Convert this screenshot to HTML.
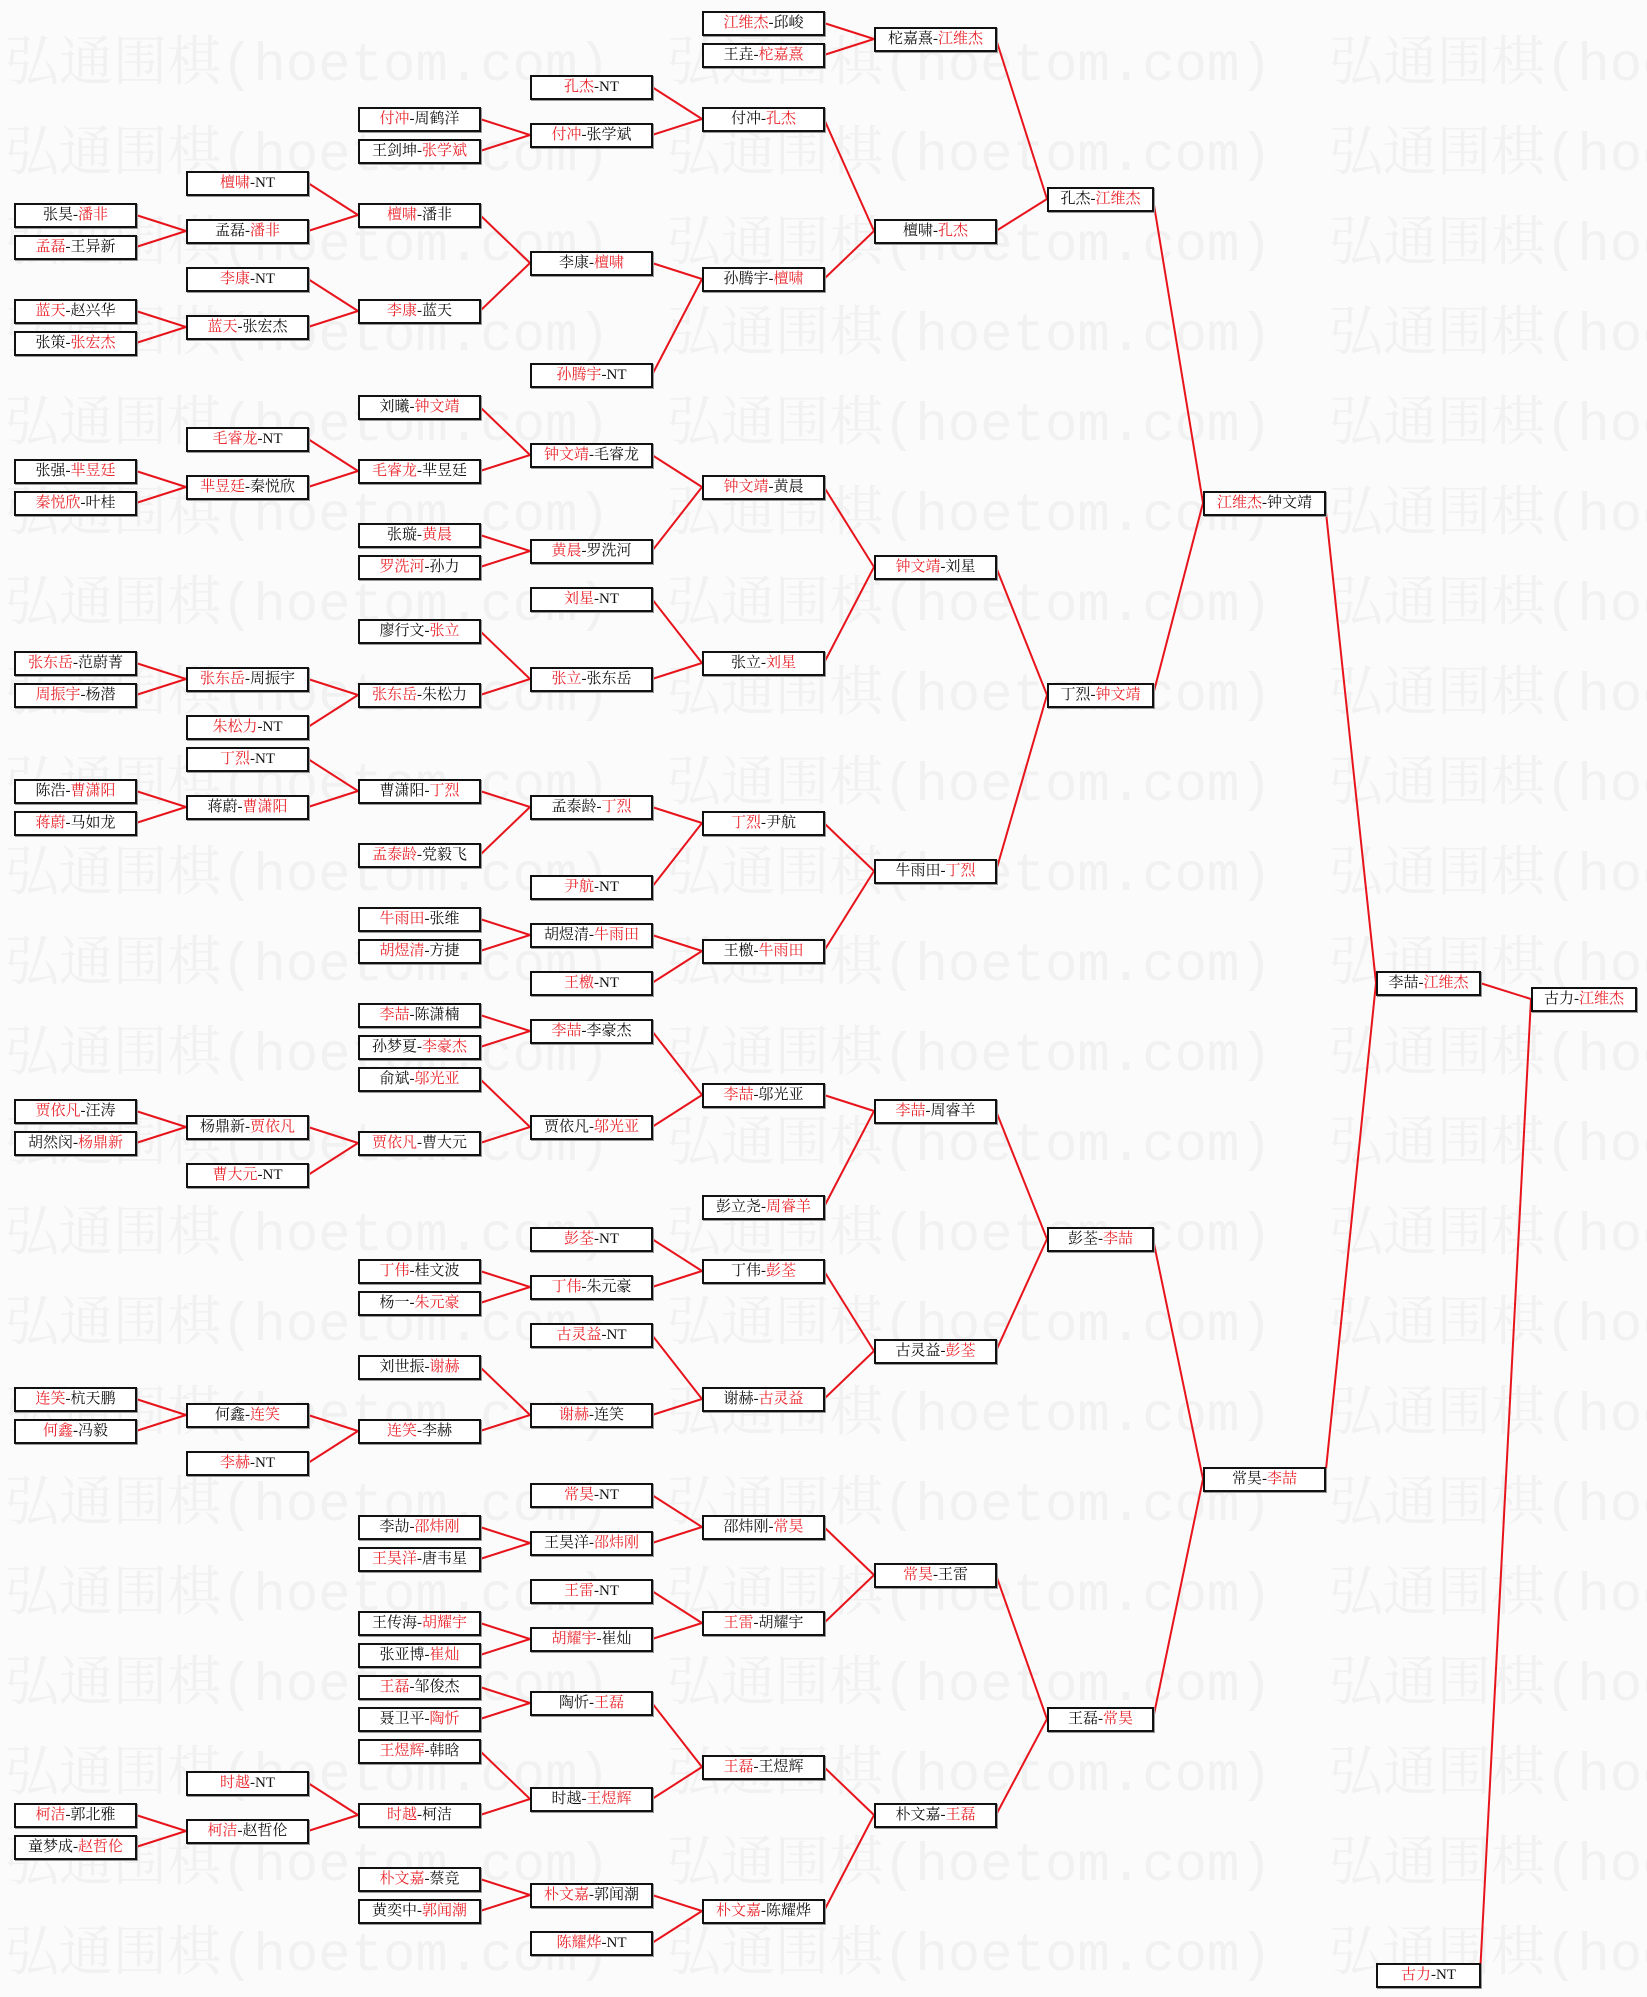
<!DOCTYPE html>
<html><head><meta charset="utf-8">
<style>
html,body{margin:0;padding:0}
body{width:1647px;height:1997px;position:relative;background:#fbfbfb;overflow:hidden;font-family:"Liberation Serif","Noto Serif CJK SC",serif}
.wm{position:absolute;left:5px;white-space:nowrap;color:#f1f1f1;font-size:54px;line-height:56px;font-family:"Liberation Mono","Noto Serif CJK SC",monospace}
.wm span{display:inline-block;width:662px}
svg{position:absolute;left:0;top:0}
.b{position:absolute;height:25px;box-sizing:border-box;border:2px solid #111;background:#fff;font-size:15px;line-height:21px;text-align:center;color:#111;white-space:nowrap;box-shadow:1px 1px 0 #999}
.r{color:#e8262c}
.c0{left:14px;width:123px}.c1{left:186px;width:123px}.c2{left:358px;width:123px}.c3{left:530px;width:123px}.c4{left:702px;width:123px}.c5{left:874px;width:123px}.c6{left:1047px;width:107px}.c7{left:1203px;width:123px}.c8{left:1376px;width:105px}.c9{left:1531px;width:106px}
</style></head><body>
<div class="wm" style="top:39px"><span>弘通围棋(hoetom.com)</span><span>弘通围棋(hoetom.com)</span><span>弘通围棋(hoetom.com)</span></div>
<div class="wm" style="top:129px"><span>弘通围棋(hoetom.com)</span><span>弘通围棋(hoetom.com)</span><span>弘通围棋(hoetom.com)</span></div>
<div class="wm" style="top:219px"><span>弘通围棋(hoetom.com)</span><span>弘通围棋(hoetom.com)</span><span>弘通围棋(hoetom.com)</span></div>
<div class="wm" style="top:309px"><span>弘通围棋(hoetom.com)</span><span>弘通围棋(hoetom.com)</span><span>弘通围棋(hoetom.com)</span></div>
<div class="wm" style="top:399px"><span>弘通围棋(hoetom.com)</span><span>弘通围棋(hoetom.com)</span><span>弘通围棋(hoetom.com)</span></div>
<div class="wm" style="top:489px"><span>弘通围棋(hoetom.com)</span><span>弘通围棋(hoetom.com)</span><span>弘通围棋(hoetom.com)</span></div>
<div class="wm" style="top:579px"><span>弘通围棋(hoetom.com)</span><span>弘通围棋(hoetom.com)</span><span>弘通围棋(hoetom.com)</span></div>
<div class="wm" style="top:669px"><span>弘通围棋(hoetom.com)</span><span>弘通围棋(hoetom.com)</span><span>弘通围棋(hoetom.com)</span></div>
<div class="wm" style="top:759px"><span>弘通围棋(hoetom.com)</span><span>弘通围棋(hoetom.com)</span><span>弘通围棋(hoetom.com)</span></div>
<div class="wm" style="top:849px"><span>弘通围棋(hoetom.com)</span><span>弘通围棋(hoetom.com)</span><span>弘通围棋(hoetom.com)</span></div>
<div class="wm" style="top:939px"><span>弘通围棋(hoetom.com)</span><span>弘通围棋(hoetom.com)</span><span>弘通围棋(hoetom.com)</span></div>
<div class="wm" style="top:1029px"><span>弘通围棋(hoetom.com)</span><span>弘通围棋(hoetom.com)</span><span>弘通围棋(hoetom.com)</span></div>
<div class="wm" style="top:1119px"><span>弘通围棋(hoetom.com)</span><span>弘通围棋(hoetom.com)</span><span>弘通围棋(hoetom.com)</span></div>
<div class="wm" style="top:1209px"><span>弘通围棋(hoetom.com)</span><span>弘通围棋(hoetom.com)</span><span>弘通围棋(hoetom.com)</span></div>
<div class="wm" style="top:1299px"><span>弘通围棋(hoetom.com)</span><span>弘通围棋(hoetom.com)</span><span>弘通围棋(hoetom.com)</span></div>
<div class="wm" style="top:1389px"><span>弘通围棋(hoetom.com)</span><span>弘通围棋(hoetom.com)</span><span>弘通围棋(hoetom.com)</span></div>
<div class="wm" style="top:1479px"><span>弘通围棋(hoetom.com)</span><span>弘通围棋(hoetom.com)</span><span>弘通围棋(hoetom.com)</span></div>
<div class="wm" style="top:1569px"><span>弘通围棋(hoetom.com)</span><span>弘通围棋(hoetom.com)</span><span>弘通围棋(hoetom.com)</span></div>
<div class="wm" style="top:1659px"><span>弘通围棋(hoetom.com)</span><span>弘通围棋(hoetom.com)</span><span>弘通围棋(hoetom.com)</span></div>
<div class="wm" style="top:1749px"><span>弘通围棋(hoetom.com)</span><span>弘通围棋(hoetom.com)</span><span>弘通围棋(hoetom.com)</span></div>
<div class="wm" style="top:1839px"><span>弘通围棋(hoetom.com)</span><span>弘通围棋(hoetom.com)</span><span>弘通围棋(hoetom.com)</span></div>
<div class="wm" style="top:1929px"><span>弘通围棋(hoetom.com)</span><span>弘通围棋(hoetom.com)</span><span>弘通围棋(hoetom.com)</span></div>

<svg width="1647" height="1997" stroke="#e8141c" stroke-width="2" fill="none">
<line x1="136" y1="215" x2="186" y2="231"/><line x1="136" y1="247" x2="186" y2="231"/>
<line x1="136" y1="311" x2="186" y2="327"/><line x1="136" y1="343" x2="186" y2="327"/>
<line x1="136" y1="471" x2="186" y2="487"/><line x1="136" y1="503" x2="186" y2="487"/>
<line x1="136" y1="663" x2="186" y2="679"/><line x1="136" y1="695" x2="186" y2="679"/>
<line x1="136" y1="791" x2="186" y2="807"/><line x1="136" y1="823" x2="186" y2="807"/>
<line x1="136" y1="1111" x2="186" y2="1127"/><line x1="136" y1="1143" x2="186" y2="1127"/>
<line x1="136" y1="1399" x2="186" y2="1415"/><line x1="136" y1="1431" x2="186" y2="1415"/>
<line x1="136" y1="1815" x2="186" y2="1831"/><line x1="136" y1="1847" x2="186" y2="1831"/>
<line x1="308" y1="183" x2="358" y2="215"/><line x1="308" y1="231" x2="358" y2="215"/>
<line x1="308" y1="279" x2="358" y2="311"/><line x1="308" y1="327" x2="358" y2="311"/>
<line x1="308" y1="439" x2="358" y2="471"/><line x1="308" y1="487" x2="358" y2="471"/>
<line x1="308" y1="679" x2="358" y2="695"/><line x1="308" y1="727" x2="358" y2="695"/>
<line x1="308" y1="759" x2="358" y2="791"/><line x1="308" y1="807" x2="358" y2="791"/>
<line x1="308" y1="1127" x2="358" y2="1143"/><line x1="308" y1="1175" x2="358" y2="1143"/>
<line x1="308" y1="1415" x2="358" y2="1431"/><line x1="308" y1="1463" x2="358" y2="1431"/>
<line x1="308" y1="1783" x2="358" y2="1815"/><line x1="308" y1="1831" x2="358" y2="1815"/>
<line x1="480" y1="119" x2="530" y2="135"/><line x1="480" y1="151" x2="530" y2="135"/>
<line x1="480" y1="215" x2="530" y2="263"/><line x1="480" y1="311" x2="530" y2="263"/>
<line x1="480" y1="407" x2="530" y2="455"/><line x1="480" y1="471" x2="530" y2="455"/>
<line x1="480" y1="535" x2="530" y2="551"/><line x1="480" y1="567" x2="530" y2="551"/>
<line x1="480" y1="631" x2="530" y2="679"/><line x1="480" y1="695" x2="530" y2="679"/>
<line x1="480" y1="791" x2="530" y2="807"/><line x1="480" y1="855" x2="530" y2="807"/>
<line x1="480" y1="919" x2="530" y2="935"/><line x1="480" y1="951" x2="530" y2="935"/>
<line x1="480" y1="1015" x2="530" y2="1031"/><line x1="480" y1="1047" x2="530" y2="1031"/>
<line x1="480" y1="1079" x2="530" y2="1127"/><line x1="480" y1="1143" x2="530" y2="1127"/>
<line x1="480" y1="1271" x2="530" y2="1287"/><line x1="480" y1="1303" x2="530" y2="1287"/>
<line x1="480" y1="1367" x2="530" y2="1415"/><line x1="480" y1="1431" x2="530" y2="1415"/>
<line x1="480" y1="1527" x2="530" y2="1543"/><line x1="480" y1="1559" x2="530" y2="1543"/>
<line x1="480" y1="1623" x2="530" y2="1639"/><line x1="480" y1="1655" x2="530" y2="1639"/>
<line x1="480" y1="1687" x2="530" y2="1703"/><line x1="480" y1="1719" x2="530" y2="1703"/>
<line x1="480" y1="1751" x2="530" y2="1799"/><line x1="480" y1="1815" x2="530" y2="1799"/>
<line x1="480" y1="1879" x2="530" y2="1895"/><line x1="480" y1="1911" x2="530" y2="1895"/>
<line x1="652" y1="87" x2="702" y2="119"/><line x1="652" y1="135" x2="702" y2="119"/>
<line x1="652" y1="263" x2="702" y2="279"/><line x1="652" y1="375" x2="702" y2="279"/>
<line x1="652" y1="455" x2="702" y2="487"/><line x1="652" y1="551" x2="702" y2="487"/>
<line x1="652" y1="599" x2="702" y2="663"/><line x1="652" y1="679" x2="702" y2="663"/>
<line x1="652" y1="807" x2="702" y2="823"/><line x1="652" y1="887" x2="702" y2="823"/>
<line x1="652" y1="935" x2="702" y2="951"/><line x1="652" y1="983" x2="702" y2="951"/>
<line x1="652" y1="1031" x2="702" y2="1095"/><line x1="652" y1="1127" x2="702" y2="1095"/>
<line x1="652" y1="1239" x2="702" y2="1271"/><line x1="652" y1="1287" x2="702" y2="1271"/>
<line x1="652" y1="1335" x2="702" y2="1399"/><line x1="652" y1="1415" x2="702" y2="1399"/>
<line x1="652" y1="1495" x2="702" y2="1527"/><line x1="652" y1="1543" x2="702" y2="1527"/>
<line x1="652" y1="1591" x2="702" y2="1623"/><line x1="652" y1="1639" x2="702" y2="1623"/>
<line x1="652" y1="1703" x2="702" y2="1767"/><line x1="652" y1="1799" x2="702" y2="1767"/>
<line x1="652" y1="1895" x2="702" y2="1911"/><line x1="652" y1="1943" x2="702" y2="1911"/>
<line x1="824" y1="23" x2="874" y2="39"/><line x1="824" y1="55" x2="874" y2="39"/>
<line x1="824" y1="119" x2="874" y2="231"/><line x1="824" y1="279" x2="874" y2="231"/>
<line x1="824" y1="487" x2="874" y2="567"/><line x1="824" y1="663" x2="874" y2="567"/>
<line x1="824" y1="823" x2="874" y2="871"/><line x1="824" y1="951" x2="874" y2="871"/>
<line x1="824" y1="1095" x2="874" y2="1111"/><line x1="824" y1="1207" x2="874" y2="1111"/>
<line x1="824" y1="1271" x2="874" y2="1351"/><line x1="824" y1="1399" x2="874" y2="1351"/>
<line x1="824" y1="1527" x2="874" y2="1575"/><line x1="824" y1="1623" x2="874" y2="1575"/>
<line x1="824" y1="1767" x2="874" y2="1815"/><line x1="824" y1="1911" x2="874" y2="1815"/>
<line x1="996" y1="39" x2="1047" y2="199"/><line x1="996" y1="231" x2="1047" y2="199"/>
<line x1="996" y1="567" x2="1047" y2="695"/><line x1="996" y1="871" x2="1047" y2="695"/>
<line x1="996" y1="1111" x2="1047" y2="1239"/><line x1="996" y1="1351" x2="1047" y2="1239"/>
<line x1="996" y1="1575" x2="1047" y2="1719"/><line x1="996" y1="1815" x2="1047" y2="1719"/>
<line x1="1153" y1="199" x2="1203" y2="503"/><line x1="1153" y1="695" x2="1203" y2="503"/>
<line x1="1153" y1="1239" x2="1203" y2="1479"/><line x1="1153" y1="1719" x2="1203" y2="1479"/>
<line x1="1325" y1="503" x2="1376" y2="983"/><line x1="1325" y1="1479" x2="1376" y2="983"/>
<line x1="1480" y1="983" x2="1531" y2="999"/><line x1="1480" y1="1975" x2="1531" y2="999"/>
</svg>

<div class="b c0" style="top:203px">张昊-<span class="r">潘非</span></div>
<div class="b c0" style="top:235px"><span class="r">孟磊</span>-王异新</div>
<div class="b c0" style="top:299px"><span class="r">蓝天</span>-赵兴华</div>
<div class="b c0" style="top:331px">张策-<span class="r">张宏杰</span></div>
<div class="b c0" style="top:459px">张强-<span class="r">芈昱廷</span></div>
<div class="b c0" style="top:491px"><span class="r">秦悦欣</span>-叶桂</div>
<div class="b c0" style="top:651px"><span class="r">张东岳</span>-范蔚菁</div>
<div class="b c0" style="top:683px"><span class="r">周振宇</span>-杨潜</div>
<div class="b c0" style="top:779px">陈浩-<span class="r">曹潇阳</span></div>
<div class="b c0" style="top:811px"><span class="r">蒋蔚</span>-马如龙</div>
<div class="b c0" style="top:1099px"><span class="r">贾依凡</span>-汪涛</div>
<div class="b c0" style="top:1131px">胡然闵-<span class="r">杨鼎新</span></div>
<div class="b c0" style="top:1387px"><span class="r">连笑</span>-杭天鹏</div>
<div class="b c0" style="top:1419px"><span class="r">何鑫</span>-冯毅</div>
<div class="b c0" style="top:1803px"><span class="r">柯洁</span>-郭北雅</div>
<div class="b c0" style="top:1835px">童梦成-<span class="r">赵哲伦</span></div>

<div class="b c1" style="top:171px"><span class="r">檀啸</span>-NT</div>
<div class="b c1" style="top:219px">孟磊-<span class="r">潘非</span></div>
<div class="b c1" style="top:267px"><span class="r">李康</span>-NT</div>
<div class="b c1" style="top:315px"><span class="r">蓝天</span>-张宏杰</div>
<div class="b c1" style="top:427px"><span class="r">毛睿龙</span>-NT</div>
<div class="b c1" style="top:475px"><span class="r">芈昱廷</span>-秦悦欣</div>
<div class="b c1" style="top:667px"><span class="r">张东岳</span>-周振宇</div>
<div class="b c1" style="top:715px"><span class="r">朱松力</span>-NT</div>
<div class="b c1" style="top:747px"><span class="r">丁烈</span>-NT</div>
<div class="b c1" style="top:795px">蒋蔚-<span class="r">曹潇阳</span></div>
<div class="b c1" style="top:1115px">杨鼎新-<span class="r">贾依凡</span></div>
<div class="b c1" style="top:1163px"><span class="r">曹大元</span>-NT</div>
<div class="b c1" style="top:1403px">何鑫-<span class="r">连笑</span></div>
<div class="b c1" style="top:1451px"><span class="r">李赫</span>-NT</div>
<div class="b c1" style="top:1771px"><span class="r">时越</span>-NT</div>
<div class="b c1" style="top:1819px"><span class="r">柯洁</span>-赵哲伦</div>

<div class="b c2" style="top:107px"><span class="r">付冲</span>-周鹤洋</div>
<div class="b c2" style="top:139px">王剑坤-<span class="r">张学斌</span></div>
<div class="b c2" style="top:203px"><span class="r">檀啸</span>-潘非</div>
<div class="b c2" style="top:299px"><span class="r">李康</span>-蓝天</div>
<div class="b c2" style="top:395px">刘曦-<span class="r">钟文靖</span></div>
<div class="b c2" style="top:459px"><span class="r">毛睿龙</span>-芈昱廷</div>
<div class="b c2" style="top:523px">张璇-<span class="r">黄晨</span></div>
<div class="b c2" style="top:555px"><span class="r">罗洗河</span>-孙力</div>
<div class="b c2" style="top:619px">廖行文-<span class="r">张立</span></div>
<div class="b c2" style="top:683px"><span class="r">张东岳</span>-朱松力</div>
<div class="b c2" style="top:779px">曹潇阳-<span class="r">丁烈</span></div>
<div class="b c2" style="top:843px"><span class="r">孟泰龄</span>-党毅飞</div>
<div class="b c2" style="top:907px"><span class="r">牛雨田</span>-张维</div>
<div class="b c2" style="top:939px"><span class="r">胡煜清</span>-方捷</div>
<div class="b c2" style="top:1003px"><span class="r">李喆</span>-陈潇楠</div>
<div class="b c2" style="top:1035px">孙梦夏-<span class="r">李豪杰</span></div>
<div class="b c2" style="top:1067px">俞斌-<span class="r">邬光亚</span></div>
<div class="b c2" style="top:1131px"><span class="r">贾依凡</span>-曹大元</div>
<div class="b c2" style="top:1259px"><span class="r">丁伟</span>-桂文波</div>
<div class="b c2" style="top:1291px">杨一-<span class="r">朱元豪</span></div>
<div class="b c2" style="top:1355px">刘世振-<span class="r">谢赫</span></div>
<div class="b c2" style="top:1419px"><span class="r">连笑</span>-李赫</div>
<div class="b c2" style="top:1515px">李劼-<span class="r">邵炜刚</span></div>
<div class="b c2" style="top:1547px"><span class="r">王昊洋</span>-唐韦星</div>
<div class="b c2" style="top:1611px">王传海-<span class="r">胡耀宇</span></div>
<div class="b c2" style="top:1643px">张亚博-<span class="r">崔灿</span></div>
<div class="b c2" style="top:1675px"><span class="r">王磊</span>-邹俊杰</div>
<div class="b c2" style="top:1707px">聂卫平-<span class="r">陶忻</span></div>
<div class="b c2" style="top:1739px"><span class="r">王煜辉</span>-韩晗</div>
<div class="b c2" style="top:1803px"><span class="r">时越</span>-柯洁</div>
<div class="b c2" style="top:1867px"><span class="r">朴文嘉</span>-蔡竞</div>
<div class="b c2" style="top:1899px">黄奕中-<span class="r">郭闻潮</span></div>

<div class="b c3" style="top:75px"><span class="r">孔杰</span>-NT</div>
<div class="b c3" style="top:123px"><span class="r">付冲</span>-张学斌</div>
<div class="b c3" style="top:251px">李康-<span class="r">檀啸</span></div>
<div class="b c3" style="top:363px"><span class="r">孙腾宇</span>-NT</div>
<div class="b c3" style="top:443px"><span class="r">钟文靖</span>-毛睿龙</div>
<div class="b c3" style="top:539px"><span class="r">黄晨</span>-罗洗河</div>
<div class="b c3" style="top:587px"><span class="r">刘星</span>-NT</div>
<div class="b c3" style="top:667px"><span class="r">张立</span>-张东岳</div>
<div class="b c3" style="top:795px">孟泰龄-<span class="r">丁烈</span></div>
<div class="b c3" style="top:875px"><span class="r">尹航</span>-NT</div>
<div class="b c3" style="top:923px">胡煜清-<span class="r">牛雨田</span></div>
<div class="b c3" style="top:971px"><span class="r">王檄</span>-NT</div>
<div class="b c3" style="top:1019px"><span class="r">李喆</span>-李豪杰</div>
<div class="b c3" style="top:1115px">贾依凡-<span class="r">邬光亚</span></div>
<div class="b c3" style="top:1227px"><span class="r">彭荃</span>-NT</div>
<div class="b c3" style="top:1275px"><span class="r">丁伟</span>-朱元豪</div>
<div class="b c3" style="top:1323px"><span class="r">古灵益</span>-NT</div>
<div class="b c3" style="top:1403px"><span class="r">谢赫</span>-连笑</div>
<div class="b c3" style="top:1483px"><span class="r">常昊</span>-NT</div>
<div class="b c3" style="top:1531px">王昊洋-<span class="r">邵炜刚</span></div>
<div class="b c3" style="top:1579px"><span class="r">王雷</span>-NT</div>
<div class="b c3" style="top:1627px"><span class="r">胡耀宇</span>-崔灿</div>
<div class="b c3" style="top:1691px">陶忻-<span class="r">王磊</span></div>
<div class="b c3" style="top:1787px">时越-<span class="r">王煜辉</span></div>
<div class="b c3" style="top:1883px"><span class="r">朴文嘉</span>-郭闻潮</div>
<div class="b c3" style="top:1931px"><span class="r">陈耀烨</span>-NT</div>

<div class="b c4" style="top:11px"><span class="r">江维杰</span>-邱峻</div>
<div class="b c4" style="top:43px">王垚-<span class="r">柁嘉熹</span></div>
<div class="b c4" style="top:107px">付冲-<span class="r">孔杰</span></div>
<div class="b c4" style="top:267px">孙腾宇-<span class="r">檀啸</span></div>
<div class="b c4" style="top:475px"><span class="r">钟文靖</span>-黄晨</div>
<div class="b c4" style="top:651px">张立-<span class="r">刘星</span></div>
<div class="b c4" style="top:811px"><span class="r">丁烈</span>-尹航</div>
<div class="b c4" style="top:939px">王檄-<span class="r">牛雨田</span></div>
<div class="b c4" style="top:1083px"><span class="r">李喆</span>-邬光亚</div>
<div class="b c4" style="top:1195px">彭立尧-<span class="r">周睿羊</span></div>
<div class="b c4" style="top:1259px">丁伟-<span class="r">彭荃</span></div>
<div class="b c4" style="top:1387px">谢赫-<span class="r">古灵益</span></div>
<div class="b c4" style="top:1515px">邵炜刚-<span class="r">常昊</span></div>
<div class="b c4" style="top:1611px"><span class="r">王雷</span>-胡耀宇</div>
<div class="b c4" style="top:1755px"><span class="r">王磊</span>-王煜辉</div>
<div class="b c4" style="top:1899px"><span class="r">朴文嘉</span>-陈耀烨</div>

<div class="b c5" style="top:27px">柁嘉熹-<span class="r">江维杰</span></div>
<div class="b c5" style="top:219px">檀啸-<span class="r">孔杰</span></div>
<div class="b c5" style="top:555px"><span class="r">钟文靖</span>-刘星</div>
<div class="b c5" style="top:859px">牛雨田-<span class="r">丁烈</span></div>
<div class="b c5" style="top:1099px"><span class="r">李喆</span>-周睿羊</div>
<div class="b c5" style="top:1339px">古灵益-<span class="r">彭荃</span></div>
<div class="b c5" style="top:1563px"><span class="r">常昊</span>-王雷</div>
<div class="b c5" style="top:1803px">朴文嘉-<span class="r">王磊</span></div>

<div class="b c6" style="top:187px">孔杰-<span class="r">江维杰</span></div>
<div class="b c6" style="top:683px">丁烈-<span class="r">钟文靖</span></div>
<div class="b c6" style="top:1227px">彭荃-<span class="r">李喆</span></div>
<div class="b c6" style="top:1707px">王磊-<span class="r">常昊</span></div>

<div class="b c7" style="top:491px"><span class="r">江维杰</span>-钟文靖</div>
<div class="b c7" style="top:1467px">常昊-<span class="r">李喆</span></div>

<div class="b c8" style="top:971px">李喆-<span class="r">江维杰</span></div>
<div class="b c8" style="top:1963px"><span class="r">古力</span>-NT</div>

<div class="b c9" style="top:987px">古力-<span class="r">江维杰</span></div>
</body></html>
